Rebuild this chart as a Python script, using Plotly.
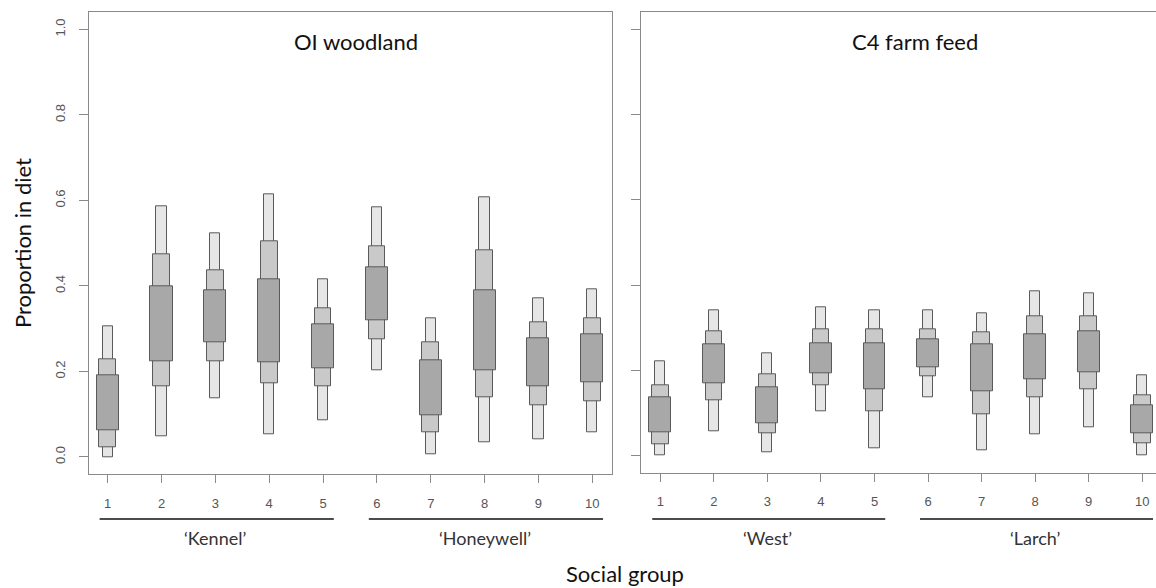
import plotly.graph_objects as go
import numpy as np

groups = [1, 2, 3, 4, 5, 6, 7, 8, 9, 10]
tick_labels = ["1", "2", "3", "4", "5", "6", "7", "8", "9", "10"]

# OI woodland credible intervals (95 / 75 / 50 %)
wood_lo95 = [0.000, 0.049, 0.138, 0.053, 0.086, 0.203, 0.006, 0.033, 0.042, 0.058]
wood_lo75 = [0.023, 0.165, 0.224, 0.172, 0.165, 0.275, 0.057, 0.140, 0.121, 0.131]
wood_lo50 = [0.062, 0.224, 0.267, 0.222, 0.207, 0.320, 0.098, 0.203, 0.165, 0.175]
wood_hi50 = [0.191, 0.399, 0.389, 0.416, 0.310, 0.444, 0.225, 0.390, 0.278, 0.287]
wood_hi75 = [0.229, 0.473, 0.437, 0.505, 0.348, 0.492, 0.268, 0.483, 0.314, 0.324]
wood_hi95 = [0.306, 0.587, 0.523, 0.614, 0.415, 0.584, 0.324, 0.607, 0.372, 0.393]

# C4 farm feed credible intervals
farm_lo95 = [0.002, 0.058, 0.009, 0.105, 0.017, 0.138, 0.012, 0.050, 0.066, 0.002]
farm_lo75 = [0.027, 0.130, 0.052, 0.165, 0.103, 0.185, 0.096, 0.136, 0.155, 0.029]
farm_lo50 = [0.055, 0.169, 0.076, 0.193, 0.155, 0.208, 0.150, 0.179, 0.196, 0.052]
farm_hi50 = [0.136, 0.261, 0.160, 0.264, 0.264, 0.272, 0.261, 0.284, 0.291, 0.119]
farm_hi75 = [0.165, 0.292, 0.190, 0.296, 0.296, 0.296, 0.290, 0.327, 0.327, 0.142]
farm_hi95 = [0.222, 0.342, 0.240, 0.347, 0.341, 0.342, 0.333, 0.385, 0.381, 0.188]

panel_titles = ["OI woodland", "C4 farm feed"]
setts_left = ["\u2018Kennel\u2019", "\u2018Honeywell\u2019"]
setts_right = ["\u2018West\u2019", "\u2018Larch\u2019"]
sett_members = [[1, 2, 3, 4, 5], [6, 7, 8, 9, 10]]
y_ticks = [0.0, 0.2, 0.4, 0.6, 0.8, 1.0]
y_tick_text = ["0.0", "0.2", "0.4", "0.6", "0.8", "1.0"]

W, H = 1156, 588
fills = ["#e6e6e6", "#c9c9c9", "#a8a8a8"]
widths = [0.19, 0.31, 0.41]
edge = "#5a5a5a"
axcol = "#8a8a8a"

fig = go.Figure()

def add_panel(lo_hi, xa, ya):
    for (lo, hi), f, w in zip(lo_hi, fills, widths):
        lo = np.array(lo); hi = np.array(hi)
        fig.add_trace(go.Bar(x=groups, y=hi - lo, base=lo, width=w,
                             marker=dict(color=f, line=dict(color=edge, width=1)),
                             xaxis=xa, yaxis=ya, showlegend=False, hoverinfo="skip"))

add_panel([(wood_lo95, wood_hi95), (wood_lo75, wood_hi75), (wood_lo50, wood_hi50)], "x", "y")
add_panel([(farm_lo95, farm_hi95), (farm_lo75, farm_hi75), (farm_lo50, farm_hi50)], "x2", "y2")

def px_x(p): return p / W
def px_y(p): return (H - p) / H

tickfont = dict(family="Liberation Sans, Arial", size=13, color="#555")
common_x = dict(tickmode="array", tickvals=groups, ticktext=tick_labels, ticks="outside",
                ticklen=8, tickcolor=axcol, showline=True, linecolor=axcol, linewidth=1,
                showgrid=False, zeroline=False, tickfont=tickfont, ticklabelstandoff=9)
fig.update_layout(
    width=W, height=H, margin=dict(l=0, r=0, t=0, b=0),
    paper_bgcolor="white", plot_bgcolor="white", barmode="overlay", bargap=0,
    xaxis=dict(domain=[px_x(89), px_x(612)], range=[0.653, 10.366], anchor="y",
               mirror=True, **common_x),
    yaxis=dict(domain=[px_y(474), px_y(12.3)], range=[-0.04, 1.04], anchor="x",
               tickmode="array", tickvals=y_ticks, ticktext=y_tick_text, ticks="outside",
               ticklen=9, tickcolor=axcol, showline=True, linecolor=axcol, linewidth=1,
               mirror=True, showgrid=False, zeroline=False, tickangle=-90,
               tickfont=tickfont, ticklabelstandoff=9),
    xaxis2=dict(domain=[px_x(641), 1.0], range=[0.64, 10.256], anchor="y2",
                mirror=True, **common_x),
    yaxis2=dict(domain=[px_y(472.7), px_y(12.3)], range=[-0.04, 1.04], anchor="x2",
                tickmode="array", tickvals=y_ticks, ticktext=["" for _ in y_ticks],
                ticks="outside", ticklen=9, tickcolor=axcol, showline=True,
                linecolor=axcol, linewidth=1, mirror=False, showgrid=False, zeroline=False),
)

ctr = dict(xanchor="center", yanchor="middle", showarrow=False)
title_font = dict(family="Lato, Noto Sans", size=22, color="#111")
fig.add_annotation(text=panel_titles[0], x=px_x(356), y=px_y(42), xref="paper", yref="paper",
                   font=title_font, **ctr)
fig.add_annotation(text=panel_titles[1], x=px_x(915), y=px_y(42), xref="paper", yref="paper",
                   font=title_font, **ctr)

label_font = dict(family="Lato, Noto Sans", size=18, color="#333")
for xa, names in (("x", setts_left), ("x2", setts_right)):
    for members, name in zip(sett_members, names):
        x0 = members[0] - 0.15
        x1 = members[-1] + 0.2
        fig.add_shape(type="line", xref=xa, yref="paper", x0=x0, x1=x1,
                      y0=px_y(519), y1=px_y(519), line=dict(color="#111", width=1.5))
        fig.add_annotation(text=name, xref=xa, yref="paper", x=float(np.mean(members)),
                           y=px_y(538), font=label_font, **ctr)

fig.add_annotation(text="Proportion in diet", x=px_x(23), y=px_y(243), xref="paper", yref="paper",
                   textangle=-90, font=dict(family="Lato, Noto Sans", size=22, color="#111"), **ctr)
fig.add_annotation(text="Social group", x=px_x(625), y=px_y(573), xref="paper", yref="paper",
                   font=dict(family="Lato, Noto Sans", size=22, color="#111"), **ctr)

fig.write_html("out.html")
